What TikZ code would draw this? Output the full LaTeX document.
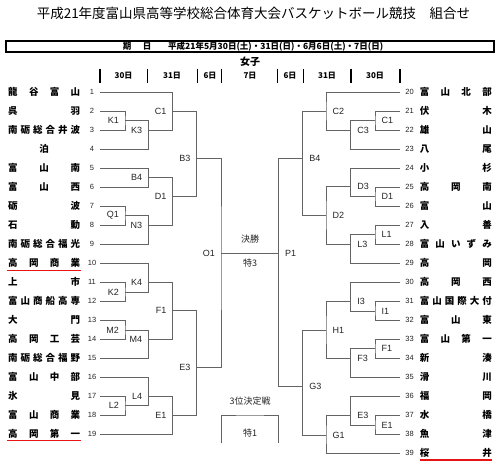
\documentclass[tikz,border=0pt]{standalone}
\usepackage{fontspec}
\setmainfont{Liberation Sans}
\newfontfamily\jp{Noto Sans CJK JP}
\definecolor{lc}{RGB}{100,100,100}
\definecolor{labc}{RGB}{35,35,35}
\definecolor{redl}{RGB}{230,20,20}
\tikzset{
 ln/.style={draw=lc,line width=0.8pt},
 lab/.style={font=\fontsize{9}{9}\selectfont,text=labc,inner sep=0pt},
 num/.style={font=\fontsize{7.5}{7.5}\selectfont,text=labc,inner sep=0pt},
 nm/.style={font=\jp\bfseries\fontsize{9.5}{9.5}\selectfont,inner sep=0pt},
 jt/.style={font=\jp\fontsize{9}{9}\selectfont,text=labc,inner sep=0pt},
 ul/.style={draw=redl,line width=1.4pt},
 bar/.style={draw=black,line width=1.2pt},
}
\newcommand\lrow[2]{%
 \coordinate (a#1) at (100,{92+19*(#1-1)});
 \node[num] (na#1) at (92,{92+19*(#1-1)}) {#1};
 \node[nm] (ta#1) at (44.2,{92+19*(#1-1)}) {\makebox[72pt][s]{#2}};}
\newcommand\rrow[2]{%
 \coordinate (b#1) at (400,{92+19*(#1-20)});
 \node[num] (nb#1) at (409.5,{92+19*(#1-20)}) {#1};
 \node[nm] (tb#1) at (455.8,{92+19*(#1-20)}) {\makebox[72pt][s]{#2}};}
\newcommand\lmatch[4]{\coordinate (#1) at (#2,#3);
 \node[lab,anchor=east] (t#1) at ([xshift=-6pt]#1) {#4};}
\newcommand\rmatch[4]{\coordinate (#1) at (#2,#3);
 \node[lab,anchor=west] (t#1) at ([xshift=6.5pt]#1) {#4};}
\begin{document}
\begin{tikzpicture}[x=1pt,y=-1pt]
\useasboundingbox (0,0) rectangle (500,466);
% title
\node[font=\jp\fontsize{13.5}{13.5}\selectfont,inner sep=0pt] (title) at (253.5,13.5) {平成21年度富山県高等学校総合体育大会バスケットボール競技　組合せ};
% header box
\node[draw=black,line width=1.8pt,minimum width=488pt,minimum height=11.6pt,inner sep=0pt] (hdr) at (250,46.5) {};
\node[font=\jp\bfseries\fontsize{8.5}{8.5}\selectfont,inner sep=0pt] (hk) at (127,46.5) {期};
\node[font=\jp\bfseries\fontsize{8.5}{8.5}\selectfont,inner sep=0pt] (hn) at (147,46.5) {日};
\node[font=\jp\bfseries\fontsize{8.5}{8.5}\selectfont,inner sep=0pt,anchor=west] (hd) at (168,46.5) {平成21年5月30日(土)・31日(日)・6月6日(土)・7日(日)};
\node[font=\jp\bfseries\fontsize{10}{10}\selectfont,inner sep=0pt] (gs) at (250,61.7) {女子};
% day row
\foreach \x [count=\i] in {100,147.7,197.7,221.7,277.7,303.3,351,400}{
 \coordinate (d\i a) at (\x,68.5); \coordinate (d\i b) at (\x,83);
 \draw[bar] (d\i a) -- (d\i b);}
\foreach \x/\t [count=\i] in {123.5/30日,172/31日,210/6日,250/7日,290/6日,327/31日,375/30日}{
 \node[font=\jp\bfseries\fontsize{8}{8}\selectfont,inner sep=0pt] (day\i) at (\x,76) {\t};}
% left rows
\lrow{1}{龍\hfill 谷\hfill 富\hfill 山}
\lrow{2}{呉\hfill 羽}
\lrow{3}{南\hfill 砺\hfill 総\hfill 合\hfill 井\hfill 波}
\lrow{4}{\hfill 泊\hfill}
\lrow{5}{富\hfill 山\hfill 南}
\lrow{6}{富\hfill 山\hfill 西}
\lrow{7}{砺\hfill 波}
\lrow{8}{石\hfill 動}
\lrow{9}{南\hfill 砺\hfill 総\hfill 合\hfill 福\hfill 光}
\lrow{10}{高\hfill 岡\hfill 商\hfill 業}
\lrow{11}{上\hfill 市}
\lrow{12}{富\hfill 山\hfill 商\hfill 船\hfill 高\hfill 専}
\lrow{13}{大\hfill 門}
\lrow{14}{高\hfill 岡\hfill 工\hfill 芸}
\lrow{15}{南\hfill 砺\hfill 総\hfill 合\hfill 福\hfill 野}
\lrow{16}{富\hfill 山\hfill 中\hfill 部}
\lrow{17}{氷\hfill 見}
\lrow{18}{富\hfill 山\hfill 商\hfill 業}
\lrow{19}{高\hfill 岡\hfill 第\hfill 一}
% right rows
\rrow{20}{富\hfill 山\hfill 北\hfill 部}
\rrow{21}{伏\hfill 木}
\rrow{22}{雄\hfill 山}
\rrow{23}{八\hfill 尾}
\rrow{24}{小\hfill 杉}
\rrow{25}{高\hfill 岡\hfill 南}
\rrow{26}{富\hfill 山}
\rrow{27}{入\hfill 善}
\rrow{28}{富\hfill 山\hfill い\hfill ず\hfill み}
\rrow{29}{高\hfill 岡}
\rrow{30}{高\hfill 岡\hfill 西}
\rrow{31}{富\hfill 山\hfill 国\hfill 際\hfill 大\hfill 付}
\rrow{32}{富\hfill 山\hfill 東}
\rrow{33}{富\hfill 山\hfill 第\hfill 一}
\rrow{34}{新\hfill 湊}
\rrow{35}{滑\hfill 川}
\rrow{36}{福\hfill 岡}
\rrow{37}{水\hfill 橋}
\rrow{38}{魚\hfill 津}
\rrow{39}{桜\hfill 井}
% left matches
\lmatch{aK1}{125}{120.5}{K1}
\lmatch{aK3}{148.3}{130}{K3}
\lmatch{aC1}{172.7}{111}{C1}
\lmatch{aB4}{148.3}{177.5}{B4}
\lmatch{aQ1}{125}{215.5}{Q1}
\lmatch{aN3}{148.3}{225}{N3}
\lmatch{aD1}{172.7}{196.7}{D1}
\lmatch{aB3}{196.7}{158.3}{B3}
\lmatch{aK2}{125}{292}{K2}
\lmatch{aK4}{148.3}{282.7}{K4}
\lmatch{aM2}{125}{330}{M2}
\lmatch{aM4}{148.3}{339.3}{M4}
\lmatch{aF1}{172.7}{310.7}{F1}
\lmatch{aL2}{125}{405.7}{L2}
\lmatch{aL4}{148.3}{396}{L4}
\lmatch{aE1}{172.7}{415}{E1}
\lmatch{aE3}{196.7}{367.7}{E3}
\lmatch{O1}{221}{253.3}{O1}
% right matches
\rmatch{bC1}{375}{120}{C1}
\rmatch{bC3}{350.7}{130}{C3}
\rmatch{bC2}{326}{111}{C2}
\rmatch{bD1}{375}{196}{D1}
\rmatch{bD3}{350.7}{186.7}{D3}
\rmatch{bL1}{375}{234}{L1}
\rmatch{bL3}{350.7}{244}{L3}
\rmatch{bD2}{326}{215}{D2}
\rmatch{bB4}{302.7}{158.3}{B4}
\rmatch{bI1}{375}{311}{I1}
\rmatch{bI3}{350.7}{301}{I3}
\rmatch{bF1}{375}{348.3}{F1}
\rmatch{bF3}{350.7}{358.3}{F3}
\rmatch{bH1}{326}{330}{H1}
\rmatch{bE1}{375}{425}{E1}
\rmatch{bE3}{350.7}{415}{E3}
\rmatch{bG1}{326}{435}{G1}
\rmatch{bG3}{302.7}{386.7}{G3}
\rmatch{P1}{278.3}{253.3}{P1}
% left brackets
\draw[ln] (a2) -| (aK1) |- (a3);
\draw[ln] (aK1) -| (aK3) |- (a4);
\draw[ln] (a1) -| (aC1) |- (aK3);
\draw[ln] (a5) -| (aB4) |- (a6);
\draw[ln] (a7) -| (aQ1) |- (a8);
\draw[ln] (aQ1) -| (aN3) |- (a9);
\draw[ln] (aB4) -| (aD1) |- (aN3);
\draw[ln] (aC1) -| (aB3) |- (aD1);
\draw[ln] (a11) -| (aK2) |- (a12);
\draw[ln] (a10) -| (aK4) |- (aK2);
\draw[ln] (a13) -| (aM2) |- (a14);
\draw[ln] (aM2) -| (aM4) |- (a15);
\draw[ln] (aK4) -| (aF1) |- (aM4);
\draw[ln] (a17) -| (aL2) |- (a18);
\draw[ln] (a16) -| (aL4) |- (aL2);
\draw[ln] (aL4) -| (aE1) |- (a19);
\draw[ln] (aF1) -| (aE3) |- (aE1);
\draw[ln] (aB3) -| (O1) |- (aE3);
% right brackets
\draw[ln] (b21) -| (bC1) |- (b22);
\draw[ln] (bC1) -| (bC3) |- (b23);
\draw[ln] (b20) -| (bC2) |- (bC3);
\draw[ln] (b25) -| (bD1) |- (b26);
\draw[ln] (b24) -| (bD3) |- (bD1);
\draw[ln] (b27) -| (bL1) |- (b28);
\draw[ln] (bL1) -| (bL3) |- (b29);
\draw[ln] (bD3) -| (bD2) |- (bL3);
\draw[ln] (bC2) -| (bB4) |- (bD2);
\draw[ln] (b31) -| (bI1) |- (b32);
\draw[ln] (b30) -| (bI3) |- (bI1);
\draw[ln] (b33) -| (bF1) |- (b34);
\draw[ln] (bF1) -| (bF3) |- (b35);
\draw[ln] (bI3) -| (bH1) |- (bF3);
\draw[ln] (b37) -| (bE1) |- (b38);
\draw[ln] (b36) -| (bE3) |- (bE1);
\draw[ln] (bE3) -| (bG1) |- (b39);
\draw[ln] (bH1) -| (bG3) |- (bG1);
\draw[ln] (bB4) -| (P1) |- (bG3);
% final
\draw[ln] (O1) -- (P1);
\node[jt] (fin) at (250,239.3) {決勝};
\node[jt] (fin3) at (250,262.7) {特3};
% third place
\node[jt] (thd) at (250,401) {3位決定戦};
\coordinate (t1) at (221,443.3);
\coordinate (th) at (250,415);
\coordinate (t2) at (278.3,443.3);
\draw[ln] (t1) |- (th) -| (t2);
\node[jt] (thd1) at (250,433.3) {特1};
% red underlines
\coordinate (u1a) at (7,270.3); \coordinate (u1b) at (80.7,270.3);
\coordinate (u2a) at (7,440.7); \coordinate (u2b) at (80.7,440.7);
\coordinate (u3a) at (420,460); \coordinate (u3b) at (491.7,460);
\draw[ul] (u1a) -- (u1b);
\draw[ul] (u2a) -- (u2b);
\draw[ul] (u3a) -- (u3b);
\end{tikzpicture}
\end{document}
